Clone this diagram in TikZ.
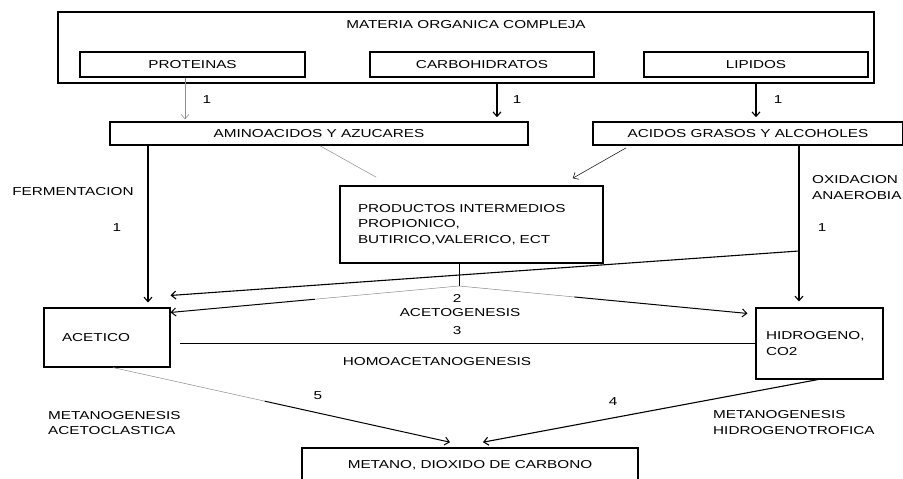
\documentclass[tikz,border=0pt]{standalone}
\usepackage{fontspec}
\setmainfont{Liberation Sans}[FakeStretch=1.33]
\usetikzlibrary{arrows.meta,calc}
\begin{document}
\begin{tikzpicture}[x=1pt,y=-1pt,
  every node/.style={font=\fontsize{11.5}{15.5}\selectfont, inner sep=0pt},
  bigbox/.style={draw, line width=1.6pt, rectangle},
  smallbox/.style={draw, line width=1.1pt, rectangle},
  tip/.style={-{Straight Barb[length=4.5pt,width=8pt]}},
  arr/.style={tip, line width=1.1pt},
  thinarr/.style={tip, line width=0.5pt, black!45},
  thinline/.style={line width=0.5pt, black!45},
  midline/.style={line width=0.7pt},
  darkend/.style={tip, line width=1pt}]
\useasboundingbox (0,0) rectangle (903,479);
\clip (0,0) rectangle (903,479);

% top group
\node[bigbox, minimum width=816pt, minimum height=71pt] (materia) at (466,47.5) {};
\node (materiat) at (466,25) {MATERIA ORGANICA COMPLEJA};
\node[bigbox, minimum width=225pt, minimum height=25pt] (prot) at (192.5,64.5) {PROTEINAS};
\node[bigbox, minimum width=224pt, minimum height=25pt] (carb) at (482,64.5) {CARBOHIDRATOS};
\node[bigbox, minimum width=224pt, minimum height=25pt] (lip) at (756,64.5) {LIPIDOS};

% second row
\node[bigbox, minimum width=418pt, minimum height=23pt] (amino) at (319,133.5) {AMINOACIDOS Y AZUCARES};
\node[bigbox, minimum width=310pt, minimum height=23pt] (acidos) at (748,133.5) {ACIDOS GRASOS Y ALCOHOLES};

% intermediate
\node[bigbox, inner xsep=18pt, text width=227pt, minimum height=77pt, align=left] (prod) at (471.5,224.5)
  {PRODUCTOS INTERMEDIOS\\PROPIONICO,\\BUTIRICO,VALERICO, ECT};

% acetico / hidrogeno
\node[smallbox, inner xsep=18pt, text width=90pt, minimum height=59pt, align=left] (acet) at (107,337.5) {ACETICO};
\node[smallbox, inner xsep=10pt, text width=107pt, minimum height=71pt, align=left] (hidro) at (819.5,343.5) {HIDROGENO,\\CO2};

% metano
\node[bigbox, minimum width=336pt, minimum height=34pt] (metano) at (470,465) {METANO, DIOXIDO DE CARBONO};

% labels
\node (l1a) at (207,100) {1};
\node (l1b) at (517,100) {1};
\node (l1c) at (778,100) {1};
\node (ferm) at (73,192) {FERMENTACION};
\node (l1d) at (117,228) {1};
\node[anchor=west, align=left] (oxid) at (812,187.5) {OXIDACION\\ANAEROBIA};
\node (l1e) at (822,228) {1};
\node (l2) at (457,298) {2};
\node (aceto) at (460,313) {ACETOGENESIS};
\node (l3) at (457,331) {3};
\node (homo) at (437,362) {HOMOACETANOGENESIS};
\node (l5) at (318,396) {5};
\node (l4) at (613,402) {4};
\node[anchor=west, align=left] (metac) at (48,423) {METANOGENESIS\\ACETOCLASTICA};
\node[anchor=west, align=left] (methid) at (713,422.5) {METANOGENESIS\\HIDROGENOTROFICA};

% helper coordinates
\coordinate (xp) at (185,0);
\coordinate (xc) at (497,0);
\coordinate (xl) at (756,0);
\coordinate (xf) at (148,0);
\coordinate (xo) at (799,0);
\coordinate (xs) at (459,0);
\coordinate (ox) at (799,251);
\coordinate (split) at (459,286);

% hydrolysis arrows
\draw[thinarr] (prot.south -| xp) -- ([yshift=2pt]amino.north -| xp);
\draw[arr] (materia.south -| xc) -- ([yshift=4pt]amino.north -| xc);
\draw[arr] (materia.south -| xl) -- ([yshift=4pt]acidos.north -| xl);

% to intermediates
\draw[thinline] ([xshift=1pt]amino.south) -- ($(prod.north west)+(37,-8)$);
\draw[tip, line width=0.5pt] ($(acidos.south west)+(34,2)$) -- ($(prod.north east)+(-31,-7)$);

% fermentation and oxidation
\draw[arr] (amino.south -| xf) -- ([yshift=5pt]acet.north -| xf);
\draw[arr] (acidos.south -| xo) -- ([yshift=6pt]hidro.north -| xo);
\draw[arr] (ox) -- ($(acet.north east)+(0,-12)$);

% acetogenesis
\draw[midline] (prod.south -| xs) -- (split);
\draw[thinline] (split) -- ($(split)!0.5!($(acet.north east)+(0,5)$)$);
\draw[darkend] ($(split)!0.5!($(acet.north east)+(0,5)$)$) -- ($(acet.north east)+(0,5)$);
\draw[thinline] (split) -- ($(split)!0.4!($(hidro.north west)+(-8,6)$)$);
\draw[darkend] ($(split)!0.4!($(hidro.north west)+(-8,6)$)$) -- ($(hidro.north west)+(-8,6)$);

% homoacetanogenesis
\draw[line width=0.6pt] ([xshift=9pt]hidro.west -| acet.east) -- (hidro.west);

% methanogenesis
\draw[thinline] ($(acet.south)+(6,0)$) -- ($($(acet.south)+(6,0)$)!0.45!($(metano.north)+(-20,-5)$)$);
\draw[darkend] ($($(acet.south)+(6,0)$)!0.45!($(metano.north)+(-20,-5)$)$) -- ($(metano.north)+(-20,-5)$);
\draw[arr] ($(hidro.south)+(-1.5,0)$) -- ($(metano.north)+(13,-5)$);
\end{tikzpicture}
\end{document}
